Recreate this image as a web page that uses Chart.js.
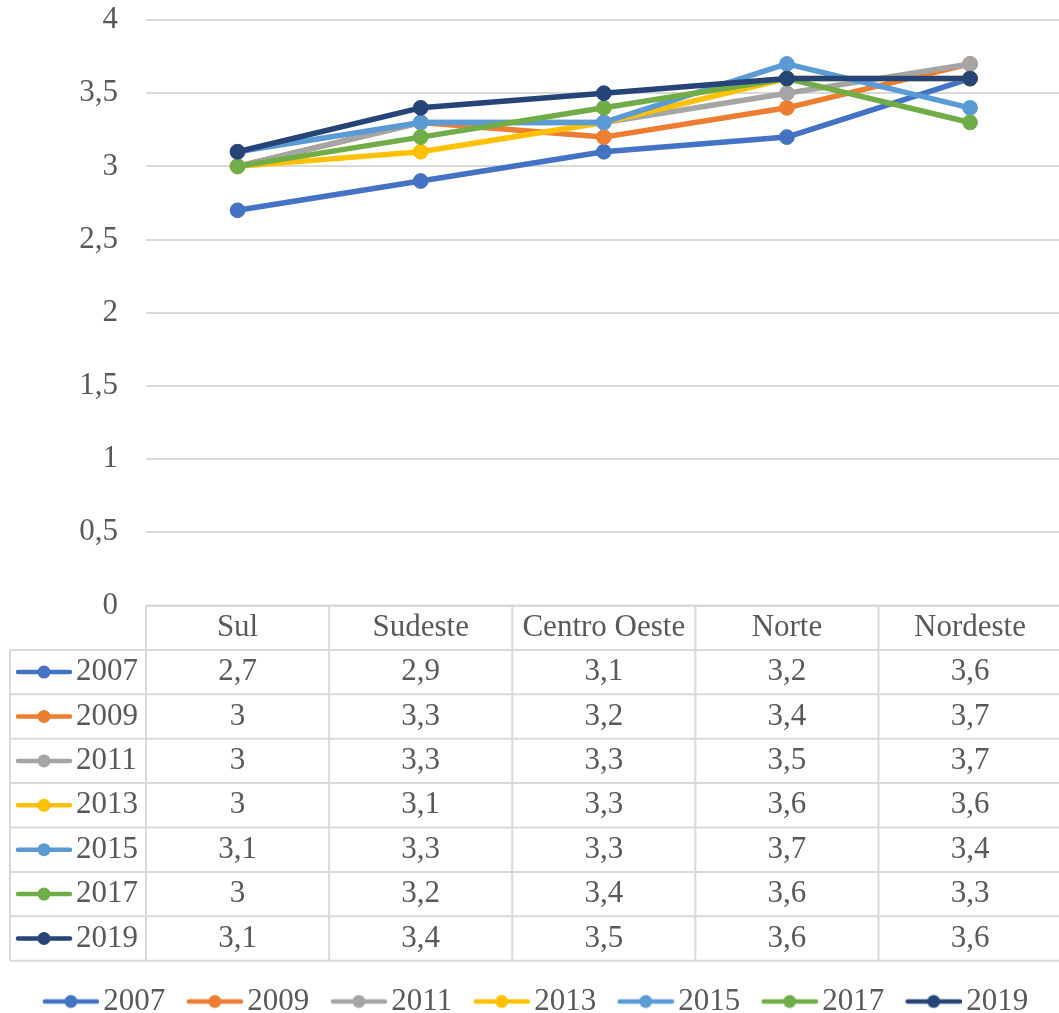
<!DOCTYPE html>
<html>
<head>
<meta charset="utf-8">
<script src="https://cdn.jsdelivr.net/npm/chart.js@4.4.1/dist/chart.umd.min.js"></script>
<style>
  html, body { margin: 0; padding: 0; background: #fff; overflow: hidden; }
  #wrap { width: 1059px; height: 1013px; overflow: hidden; }
  canvas { display: block; }
</style>
</head>
<body>
<div id="wrap"><canvas id="grafico" width="1070" height="1027"></canvas></div>
<script>
// --- dados ---
const regioes = ['Sul', 'Sudeste', 'Centro Oeste', 'Norte', 'Nordeste'];
const anos = ['2007', '2009', '2011', '2013', '2015', '2017', '2019'];
const v2007 = [2.7, 2.9, 3.1, 3.2, 3.6];
const v2009 = [3, 3.3, 3.2, 3.4, 3.7];
const v2011 = [3, 3.3, 3.3, 3.5, 3.7];
const v2013 = [3, 3.1, 3.3, 3.6, 3.6];
const v2015 = [3.1, 3.3, 3.3, 3.7, 3.4];
const v2017 = [3, 3.2, 3.4, 3.6, 3.3];
const v2019 = [3.1, 3.4, 3.5, 3.6, 3.6];
const yTicks = [0, 0.5, 1, 1.5, 2, 2.5, 3, 3.5, 4];

const series = [v2007, v2009, v2011, v2013, v2015, v2017, v2019];
const cores = ['#4472C4', '#ED7D31', '#A5A5A5', '#FFC000', '#5B9BD5', '#70AD47', '#264478'];

const FONTE = '"Liberation Serif", "Times New Roman", serif';
const TAM = 31;
const CINZA = '#595959';
const LINHA = '#d9d9d9';

const fmt = v => String(v).replace('.', ',');

// chave de legenda estilo Excel: linha com bolinha no meio
function desenhaChave(ctx, x0, yc, cor) {
  ctx.save();
  ctx.strokeStyle = cor;
  ctx.fillStyle = cor;
  ctx.lineWidth = 4.5;
  ctx.lineCap = 'round';
  ctx.beginPath();
  ctx.moveTo(x0 + 2, yc);
  ctx.lineTo(x0 + 54, yc);
  ctx.stroke();
  ctx.beginPath();
  ctx.arc(x0 + 28, yc, 6.5, 0, Math.PI * 2);
  ctx.fill();
  ctx.restore();
}

// imagem para a legenda de baixo (chave deslocada para a direita)
function chaveImg(cor) {
  const c = document.createElement('canvas');
  c.width = 68;
  c.height = 16;
  desenhaChave(c.getContext('2d'), 12, 8, cor);
  return c;
}
const chaves = cores.map(chaveImg);

// --- tabela de dados sob o gráfico ---
const tabelaPlugin = {
  id: 'tabela',
  afterDraw(chart) {
    const { ctx, chartArea, scales: { x } } = chart;
    const passo = x.getPixelForValue(1) - x.getPixelForValue(0);
    const esq = x.getPixelForValue(0) - passo / 2;
    const dir = esq + passo * regioes.length;
    const topo = chartArea.bottom;
    const alt = 44.4;
    const col0 = 10;
    const fundo = topo + (anos.length + 1) * alt;

    ctx.save();
    ctx.strokeStyle = LINHA;
    ctx.lineWidth = 2;
    ctx.beginPath();
    ctx.moveTo(esq, topo);
    ctx.lineTo(dir, topo);
    for (let r = 1; r <= anos.length + 1; r++) {
      const y = topo + r * alt;
      ctx.moveTo(col0, y);
      ctx.lineTo(dir, y);
    }
    ctx.moveTo(col0, topo + alt);
    ctx.lineTo(col0, fundo);
    for (let c = 0; c <= regioes.length; c++) {
      const xx = esq + c * passo;
      ctx.moveTo(xx, topo);
      ctx.lineTo(xx, fundo);
    }
    ctx.stroke();

    ctx.font = TAM + 'px ' + FONTE;
    ctx.fillStyle = CINZA;
    ctx.textBaseline = 'middle';
    ctx.textAlign = 'center';
    regioes.forEach((r, i) => ctx.fillText(r, x.getPixelForValue(i), topo + alt / 2));

    series.forEach((s, k) => {
      const yc = topo + (k + 1.5) * alt;
      desenhaChave(ctx, 16, yc, cores[k]);
      ctx.fillStyle = CINZA;
      ctx.textAlign = 'left';
      ctx.fillText(anos[k], 76, yc);
      ctx.textAlign = 'center';
      s.forEach((v, i) => ctx.fillText(fmt(v), x.getPixelForValue(i), yc));
    });
    ctx.restore();
  }
};

const datasets = series.map((dados, i) => ({
  label: anos[i],
  data: dados,
  borderColor: cores[i],
  backgroundColor: cores[i],
  pointBackgroundColor: cores[i],
  pointBorderColor: cores[i],
  borderWidth: 5.5,
  pointRadius: 7.4,
  pointBorderWidth: 1,
  pointHoverRadius: 7.4,
  tension: 0,
  fill: false,
  borderJoinStyle: 'round',
  order: series.length - i
}));

new Chart(document.getElementById('grafico'), {
  type: 'line',
  data: { labels: regioes, datasets },
  options: {
    responsive: false,
    animation: false,
    devicePixelRatio: 1,
    layout: { padding: { top: 20, left: 0, right: 0, bottom: 0 } },
    plugins: {
      tooltip: { enabled: false },
      legend: {
        position: 'bottom',
        labels: {
          usePointStyle: true,
          pointStyleWidth: 46,
          padding: 20.5,
          color: CINZA,
          font: { family: FONTE, size: TAM },
          generateLabels: chart => chart.data.datasets.map((ds, i) => ({
            text: ds.label,
            pointStyle: chaves[i],
            fillStyle: cores[i],
            strokeStyle: cores[i],
            lineWidth: 0,
            fontColor: CINZA,
            hidden: false,
            datasetIndex: i
          }))
        }
      }
    },
    scales: {
      x: {
        offset: true,
        grid: { display: false },
        border: { display: false },
        ticks: { display: false },
        afterFit: s => { s.height = 360; }
      },
      y: {
        min: 0,
        max: 4,
        afterBuildTicks: s => { s.ticks = yTicks.map(v => ({ value: v })); },
        afterFit: s => { s.width = 146; s.paddingTop = 0; s.paddingBottom = 0; },
        grid: { color: LINHA, lineWidth: 2, drawTicks: false },
        border: { display: false },
        ticks: {
          padding: 28,
          color: CINZA,
          font: { family: FONTE, size: TAM },
          callback: v => fmt(v)
        }
      }
    }
  },
  plugins: [tabelaPlugin]
});
</script>
</body>
</html>
